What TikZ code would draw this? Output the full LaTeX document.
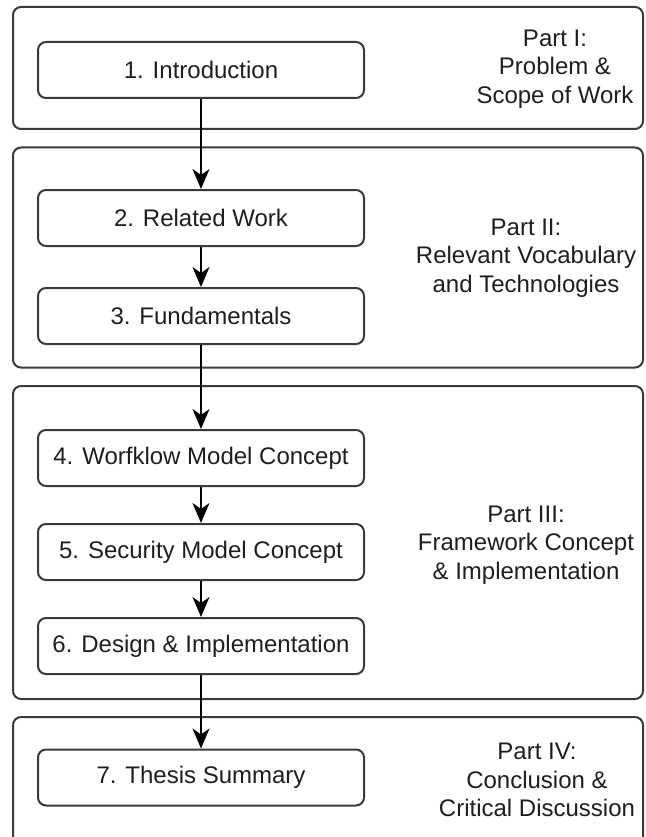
\documentclass[tikz,border=0pt]{standalone}
\usepackage{fontspec}
\setmainfont{Liberation Sans}
\usetikzlibrary{arrows.meta}

\definecolor{frame}{HTML}{3A3A3A}
\definecolor{ink}{HTML}{1E1E1E}

\tikzset{
  partbox/.style={draw=frame, line width=2pt, rounded corners=8pt,
    minimum width=630pt, inner sep=0pt},
  chapter/.style={draw=frame, line width=2pt, rounded corners=8pt,
    minimum width=326pt, minimum height=56pt, inner sep=0pt,
    text=ink, font=\fontsize{24}{28.5}\selectfont},
  partlabel/.style={align=center, text=ink, inner sep=0pt,
    font=\fontsize{24}{28.5}\selectfont},
  flow/.style={line width=1.6pt, black,
    -{Stealth[length=20pt, width=17pt, inset=6pt]}}
}

\begin{document}
\begin{tikzpicture}[x=1pt, y=-1pt]
  \useasboundingbox (0,0) rectangle (645,837);
  \clip (0,0) rectangle (645,837);

  % part frames
  \node[partbox, minimum height=122pt] (p1) at (328,68) {};
  \node[partbox, minimum height=220pt] (p2) at (328,257.5) {};
  \node[partbox, minimum height=313pt] (p3) at (328,542.5) {};
  \node[partbox, minimum height=128pt] (p4) at (328,781) {};

  % chapters
  \node[chapter] (c1) at (201,70) {1. Introduction};
  \node[chapter] (c2) at (201,218) {2. Related Work};
  \node[chapter] (c3) at (201,316) {3. Fundamentals};
  \node[chapter] (c4) at (201,458) {4. Worfklow Model Concept};
  \node[chapter] (c5) at (201,552) {5. Security Model Concept};
  \node[chapter] (c6) at (201,646) {6. Design \& Implementation};
  \node[chapter] (c7) at (201,777.5) {7. Thesis Summary};

  % part descriptions
  \node[partlabel] (l1) at (555,69) {Part I:\\Problem \&\\Scope of Work};
  \node[partlabel] (l2) at (526,258) {Part II:\\Relevant Vocabulary\\and Technologies};
  \node[partlabel] (l3) at (526,545) {Part III:\\Framework Concept\\\& Implementation};
  \node[partlabel] (l4) at (537,780) {Part IV:\\Conclusion \&\\Critical Discussion};

  % reading order
  \draw[flow] (c1) -- (c2);
  \draw[flow] (c2) -- (c3);
  \draw[flow] (c3) -- (c4);
  \draw[flow] (c4) -- (c5);
  \draw[flow] (c5) -- (c6);
  \draw[flow] (c6) -- (c7);
\end{tikzpicture}
\end{document}
